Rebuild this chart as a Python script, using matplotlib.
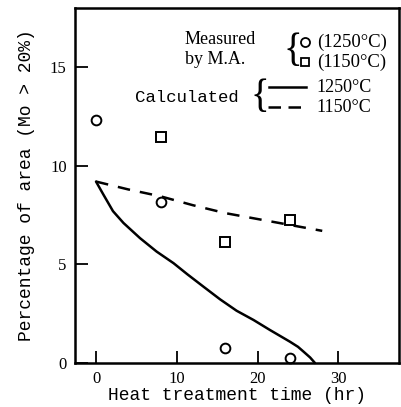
import matplotlib
matplotlib.use("Agg")
import matplotlib.pyplot as plt
from matplotlib.lines import Line2D

# measured by M.A.
meas_1250_t = [0, 8, 16, 24]
meas_1250_y = [12.3, 8.15, 0.75, 0.25]
meas_1150_t = [8, 16, 24]
meas_1150_y = [11.45, 6.15, 7.25]

# calculated curves
calc_1250_t = [0, 0.9, 2.1, 3.4, 5.45, 7.5, 9.6, 11.3, 13.3, 15.35, 17.4, 19.5, 21.5, 24.0, 25.0, 25.7, 26.5, 27.1]
calc_1250_y = [9.2, 8.55, 7.7, 7.1, 6.33, 5.65, 5.06, 4.5, 3.87, 3.23, 2.65, 2.18, 1.68, 1.08, 0.82, 0.57, 0.28, 0.0]
calc_1150_t = [0, 4, 8, 12, 16, 20, 24, 28]
calc_1150_y = [9.2, 8.8, 8.45, 8.0, 7.6, 7.3, 7.0, 6.7]

xticks = [0, 10, 20, 30]
yticks = [0, 5, 10, 15]

W, H = 401, 407
fig = plt.figure(figsize=(W / 100, H / 100), dpi=100)
ax = fig.add_axes([75 / W, 1 - 363 / H, 324 / W, 355 / H])

def px(x, y):
    # pixel position (from top-left) -> figure fraction
    return x / W, 1 - y / H

ax.plot(calc_1250_t, calc_1250_y, color="black", lw=1.8, clip_on=False,
        solid_joinstyle="round", solid_capstyle="round")
ax.plot(calc_1150_t, calc_1150_y, color="black", lw=1.8, dashes=(5, 4))
ax.plot(meas_1250_t, meas_1250_y, "o", ms=7, mfc="white", mec="black", mew=1.4, clip_on=False)
ax.plot(meas_1150_t, meas_1150_y, "s", ms=6.5, mfc="white", mec="black", mew=1.4)

ax.set_xlim(-2.6, 37.5)
ax.set_ylim(0, 18)
ax.set_xticks(xticks)
ax.set_yticks(yticks)
ax.tick_params(direction="in", length=9, width=1.3, labelsize=12, pad=6)
for lab in ax.get_xticklabels() + ax.get_yticklabels():
    lab.set_fontfamily("Liberation Serif")
for s in ax.spines.values():
    s.set_linewidth(1.8)

mono = "Liberation Mono"
serif = "Liberation Serif"
ax.set_xlabel("Heat treatment time (hr)", fontfamily=mono, fontsize=13, labelpad=0)
ax.set_ylabel("Percentage of area (Mo > 20%)", fontfamily=mono, fontsize=13, labelpad=11)

# legend block drawn by hand
fig.text(*px(185, 39), "Measured", fontfamily=serif, fontsize=13, va="center")
fig.text(*px(185, 59), "by M.A.", fontfamily=serif, fontsize=13, va="center")
fig.text(*px(283, 51), "{", fontfamily=serif, fontsize=28, va="center")
fig.add_artist(Line2D(*zip(px(305, 42)), marker="o", ms=6.5, mfc="white", mec="black", mew=1.3))
fig.add_artist(Line2D(*zip(px(305, 62)), marker="s", ms=5.5, mfc="white", mec="black", mew=1.3))
fig.text(*px(317, 42), "(1250°C)", fontfamily=serif, fontsize=13.5, va="center")
fig.text(*px(317, 62), "(1150°C)", fontfamily=serif, fontsize=13.5, va="center")

fig.text(*px(135, 97), "Calculated", fontfamily=mono, fontsize=12.5, va="center")
fig.text(*px(250, 97), "{", fontfamily=serif, fontsize=28, va="center")
a, b = px(269, 87), px(306, 87)
fig.add_artist(Line2D([a[0], b[0]], [a[1], b[1]], color="black", lw=1.8))
a, b = px(268, 107), px(306, 107)
fig.add_artist(Line2D([a[0], b[0]], [a[1], b[1]], color="black", lw=1.8, dashes=(5, 3)))
fig.text(*px(316, 88), "1250°C", fontfamily=serif, fontsize=13, va="center")
fig.text(*px(316, 108), "1150°C", fontfamily=serif, fontsize=13, va="center")

fig.savefig("out.png", dpi=100)
